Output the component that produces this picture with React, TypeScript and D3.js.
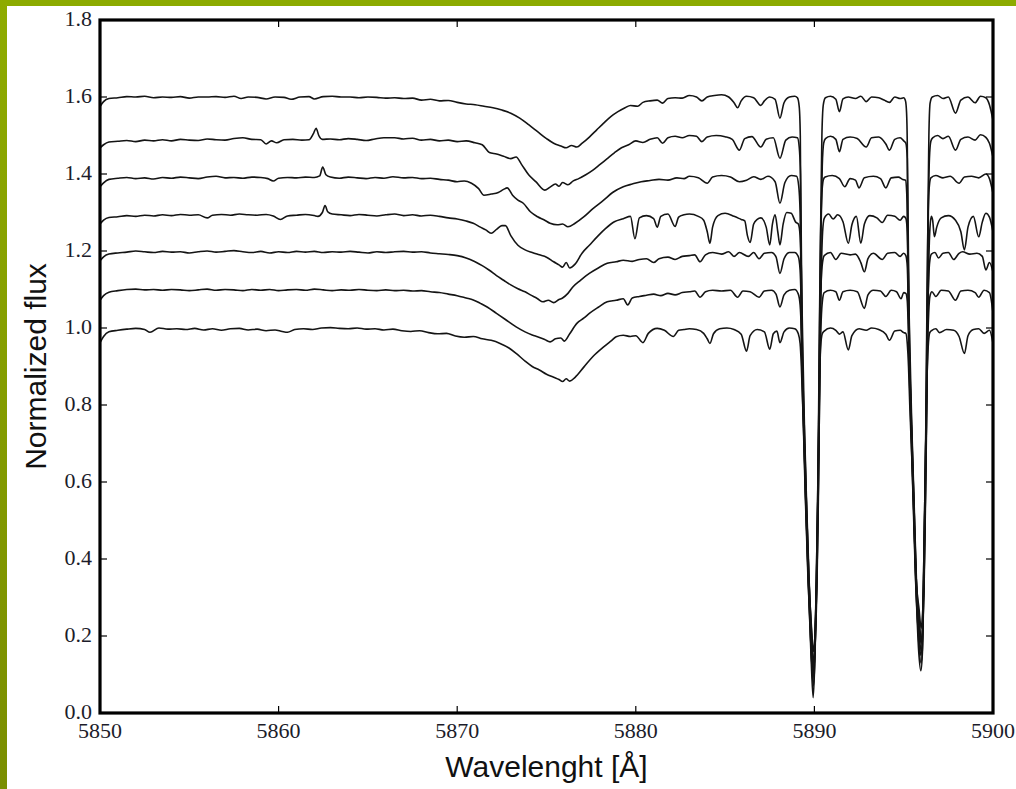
import React from 'react';
import * as d3 from 'd3';

type P = [number, number];

const xTicks = [5850, 5860, 5870, 5880, 5890, 5900];
const yTicks = [0.0, 0.2, 0.4, 0.6, 0.8, 1.0, 1.2, 1.4, 1.6, 1.8];
const xLabel = 'Wavelenght [Å]';
const yLabel = 'Normalized flux';

// Spectrum with continuum near 1.6 (top)
const spec6: P[] = [
  [5850.0,1.575],[5850.2,1.588],[5850.5,1.596],[5851.0,1.598],[5851.5,1.601],[5852.0,1.600],[5852.5,1.602],[5853.0,1.598],
  [5853.5,1.600],[5854.0,1.599],[5854.5,1.601],[5855.0,1.597],[5855.5,1.600],[5856.0,1.600],[5856.5,1.601],[5857.0,1.599],
  [5857.5,1.602],[5857.9,1.596],[5858.3,1.600],[5858.8,1.599],[5859.3,1.595],[5859.8,1.600],[5860.3,1.599],[5860.7,1.594],
  [5861.2,1.600],[5861.7,1.601],[5862.0,1.595],[5862.5,1.601],[5863.0,1.602],[5863.5,1.600],[5864.0,1.600],[5864.5,1.598],
  [5865.0,1.600],[5865.5,1.599],[5866.0,1.597],[5866.5,1.598],[5867.0,1.596],[5867.5,1.597],[5868.0,1.592],[5868.5,1.594],
  [5869.0,1.590],[5869.5,1.591],[5870.0,1.586],[5870.5,1.582],[5871.0,1.580],[5871.5,1.576],[5872.0,1.572],[5872.5,1.566],
  [5873.0,1.558],[5873.5,1.545],[5874.0,1.528],[5874.5,1.510],[5875.0,1.492],[5875.4,1.480],[5875.8,1.473],[5876.1,1.468],
  [5876.4,1.474],[5876.7,1.470],[5877.0,1.480],[5877.4,1.496],[5877.8,1.514],[5878.2,1.532],[5878.6,1.549],[5879.0,1.562],
  [5879.4,1.572],[5879.7,1.578],[5880.1,1.576],[5880.4,1.586],[5880.8,1.590],[5881.2,1.592],[5881.5,1.584],[5881.8,1.596],
  [5882.2,1.598],[5882.6,1.597],[5883.0,1.604],[5883.4,1.600],[5883.7,1.590],[5884.0,1.600],[5884.4,1.604],[5884.8,1.606],
  [5885.2,1.600],[5885.5,1.585],[5885.7,1.572],[5885.9,1.590],[5886.2,1.602],[5886.6,1.598],[5887.0,1.578],[5887.2,1.590],
  [5887.5,1.600],[5887.8,1.594],[5888.07,1.545],[5888.3,1.585],[5888.6,1.600],[5888.9,1.602],
  [5889.05,1.598],[5889.15,1.575],[5889.21,1.50],[5889.24,1.30],[5889.29,1.00],[5889.40,0.75],[5889.52,0.55],[5889.66,0.35],
  [5889.82,0.20],[5889.94,0.12],[5890.04,0.20],[5890.12,0.35],[5890.19,0.55],[5890.24,0.75],[5890.29,1.00],[5890.36,1.30],
  [5890.42,1.50],[5890.5,1.58],[5890.62,1.598],
  [5890.9,1.602],[5891.2,1.594],[5891.4,1.562],[5891.6,1.595],[5891.9,1.600],[5892.3,1.596],[5892.6,1.602],[5892.9,1.588],
  [5893.2,1.600],[5893.6,1.598],[5893.9,1.592],[5894.2,1.586],[5894.5,1.600],[5894.8,1.596],[5895.0,1.598],
  [5895.1,1.59],[5895.16,1.56],[5895.2,1.48],[5895.23,1.30],[5895.29,1.00],[5895.42,0.75],[5895.55,0.55],[5895.68,0.35],
  [5895.85,0.24],[5895.97,0.18],[5896.06,0.24],[5896.12,0.35],[5896.19,0.55],[5896.25,0.75],[5896.30,1.00],[5896.36,1.30],
  [5896.41,1.50],[5896.48,1.585],[5896.6,1.600],
  [5896.9,1.604],[5897.2,1.596],[5897.5,1.600],[5897.9,1.558],[5898.2,1.592],[5898.6,1.600],[5899.0,1.585],[5899.3,1.602],
  [5899.6,1.598],[5899.8,1.580],[5900.0,1.540],
];

const spec5: P[] = [
  [5850.0,1.468],[5850.2,1.476],[5850.5,1.483],[5851.0,1.485],[5851.5,1.487],[5852.0,1.484],[5852.5,1.488],[5853.0,1.486],
  [5853.5,1.489],[5854.0,1.486],[5854.5,1.490],[5855.0,1.488],[5855.5,1.487],[5856.0,1.491],[5856.5,1.489],[5857.0,1.488],
  [5857.5,1.492],[5858.0,1.494],[5858.5,1.490],[5859.0,1.489],[5859.3,1.478],[5859.6,1.486],[5859.9,1.481],[5860.3,1.489],
  [5860.8,1.490],[5861.3,1.488],[5861.7,1.489],[5861.95,1.505],[5862.1,1.519],[5862.25,1.500],[5862.45,1.490],[5862.9,1.491],
  [5863.4,1.489],[5863.9,1.492],[5864.4,1.490],[5864.9,1.487],[5865.4,1.491],[5865.9,1.494],[5866.5,1.494],[5867.0,1.491],
  [5867.5,1.493],[5868.0,1.488],[5868.5,1.490],[5869.0,1.486],[5869.5,1.488],[5870.0,1.484],[5870.5,1.486],[5871.0,1.481],
  [5871.4,1.476],[5871.8,1.456],[5872.2,1.452],[5872.6,1.446],[5873.0,1.440],[5873.3,1.444],[5873.6,1.425],[5874.0,1.398],
  [5874.4,1.380],[5874.9,1.358],[5875.2,1.366],[5875.5,1.374],[5875.7,1.368],[5875.9,1.378],[5876.2,1.372],[5876.5,1.382],
  [5876.8,1.388],[5877.2,1.398],[5877.6,1.410],[5878.0,1.425],[5878.4,1.440],[5878.8,1.455],[5879.2,1.468],[5879.6,1.476],
  [5880.0,1.486],[5880.4,1.482],[5880.8,1.490],[5881.2,1.494],[5881.5,1.480],[5881.8,1.494],[5882.2,1.498],[5882.6,1.494],
  [5883.0,1.500],[5883.4,1.498],[5883.7,1.484],[5884.0,1.496],[5884.5,1.500],[5885.0,1.497],[5885.4,1.490],[5885.8,1.462],
  [5886.1,1.492],[5886.5,1.497],[5887.0,1.470],[5887.3,1.490],[5887.7,1.494],[5888.07,1.441],[5888.4,1.488],[5888.75,1.496],
  [5889.05,1.494],[5889.15,1.47],[5889.22,1.40],[5889.26,1.25],[5889.31,1.00],[5889.43,0.75],[5889.55,0.55],[5889.69,0.35],
  [5889.84,0.22],[5889.95,0.16],[5890.05,0.22],[5890.14,0.35],[5890.21,0.55],[5890.26,0.75],[5890.31,1.00],[5890.37,1.25],
  [5890.44,1.42],[5890.52,1.48],[5890.62,1.492],
  [5890.9,1.498],[5891.2,1.490],[5891.4,1.458],[5891.6,1.490],[5892.0,1.496],[5892.4,1.492],[5892.9,1.470],[5893.2,1.494],
  [5893.6,1.496],[5894.0,1.478],[5894.2,1.462],[5894.5,1.490],[5894.8,1.494],[5895.0,1.486],
  [5895.12,1.48],[5895.2,1.44],[5895.24,1.30],[5895.31,1.00],[5895.44,0.75],[5895.57,0.55],[5895.70,0.35],[5895.86,0.27],
  [5895.98,0.22],[5896.07,0.27],[5896.14,0.35],[5896.21,0.55],[5896.27,0.75],[5896.32,1.00],[5896.38,1.30],[5896.44,1.44],
  [5896.52,1.485],[5896.62,1.494],
  [5896.9,1.500],[5897.2,1.492],[5897.5,1.498],[5897.9,1.462],[5898.2,1.490],[5898.6,1.496],[5899.0,1.488],[5899.3,1.502],
  [5899.6,1.495],[5899.8,1.480],[5900.0,1.444],
];

const spec4: P[] = [
  [5850.0,1.367],[5850.2,1.377],[5850.5,1.386],[5851.0,1.389],[5851.5,1.391],[5852.0,1.388],[5852.5,1.390],[5853.0,1.387],
  [5853.5,1.391],[5854.0,1.389],[5854.5,1.392],[5855.0,1.390],[5855.5,1.388],[5856.0,1.392],[5856.5,1.394],[5857.0,1.390],
  [5857.5,1.391],[5858.0,1.389],[5858.5,1.392],[5859.0,1.391],[5859.4,1.388],[5859.7,1.382],[5860.0,1.389],[5860.5,1.391],
  [5861.0,1.390],[5861.5,1.392],[5862.0,1.391],[5862.3,1.395],[5862.47,1.418],[5862.65,1.398],[5862.9,1.392],[5863.4,1.389],
  [5863.9,1.392],[5864.4,1.390],[5864.9,1.388],[5865.4,1.391],[5865.9,1.389],[5866.4,1.393],[5867.0,1.390],[5867.5,1.391],
  [5868.0,1.388],[5868.5,1.389],[5869.0,1.386],[5869.5,1.384],[5870.0,1.380],[5870.4,1.382],[5870.8,1.376],[5871.2,1.362],
  [5871.5,1.345],[5871.9,1.348],[5872.3,1.352],[5872.6,1.360],[5872.8,1.364],[5873.1,1.345],[5873.4,1.332],[5873.7,1.324],
  [5874.1,1.302],[5874.5,1.289],[5874.9,1.280],[5875.2,1.272],[5875.6,1.268],[5875.9,1.270],[5876.2,1.263],[5876.6,1.272],
  [5877.1,1.289],[5877.6,1.310],[5878.2,1.332],[5878.7,1.352],[5879.3,1.367],[5879.8,1.374],[5880.3,1.380],[5880.8,1.383],
  [5881.3,1.386],[5881.8,1.384],[5882.3,1.390],[5882.7,1.388],
  [5883.0,1.394],[5883.5,1.390],[5884.0,1.376],[5884.3,1.392],[5884.8,1.396],[5885.3,1.392],[5885.8,1.380],[5886.2,1.384],
  [5886.6,1.393],[5887.0,1.386],[5887.4,1.394],[5887.8,1.380],[5888.07,1.324],[5888.35,1.378],[5888.7,1.396],
  [5889.0,1.394],[5889.12,1.37],[5889.2,1.30],[5889.23,1.20],[5889.27,1.00],[5889.38,0.75],[5889.50,0.55],[5889.64,0.35],
  [5889.80,0.18],[5889.93,0.09],[5890.03,0.18],[5890.11,0.35],[5890.18,0.55],[5890.23,0.75],[5890.28,1.00],[5890.33,1.20],
  [5890.40,1.33],[5890.5,1.385],[5890.6,1.392],
  [5891.0,1.396],[5891.4,1.388],[5891.7,1.367],[5892.0,1.388],[5892.3,1.384],[5892.5,1.364],[5892.8,1.390],[5893.3,1.394],
  [5893.7,1.388],[5894.0,1.364],[5894.3,1.390],[5894.7,1.392],[5894.95,1.386],
  [5895.1,1.384],[5895.17,1.35],[5895.21,1.25],[5895.27,1.00],[5895.40,0.75],[5895.53,0.55],[5895.66,0.35],[5895.84,0.20],
  [5895.96,0.15],[5896.05,0.20],[5896.11,0.35],[5896.18,0.55],[5896.24,0.75],[5896.29,1.00],[5896.35,1.25],[5896.42,1.36],
  [5896.52,1.39],
  [5896.8,1.396],[5897.2,1.390],[5897.6,1.394],[5898.1,1.376],[5898.4,1.392],[5898.8,1.394],[5899.2,1.390],[5899.6,1.400],
  [5899.8,1.388],[5900.0,1.350],
];

const spec3: P[] = [
  [5850.0,1.270],[5850.2,1.280],[5850.5,1.287],[5851.0,1.289],[5851.5,1.292],[5852.0,1.290],[5852.5,1.293],[5853.0,1.291],
  [5853.5,1.294],[5854.0,1.292],[5854.5,1.295],[5855.0,1.293],[5855.5,1.294],[5856.0,1.286],[5856.3,1.293],[5856.8,1.295],
  [5857.3,1.293],[5857.8,1.296],[5858.3,1.294],[5858.8,1.293],[5859.3,1.295],[5859.7,1.291],[5860.1,1.282],[5860.5,1.291],
  [5861.0,1.293],[5861.5,1.295],[5862.0,1.292],[5862.2,1.290],[5862.45,1.300],[5862.6,1.318],[5862.75,1.302],[5863.0,1.296],
  [5863.5,1.294],[5864.0,1.292],[5864.5,1.295],[5865.0,1.293],[5865.5,1.291],[5866.0,1.294],[5866.5,1.296],[5867.0,1.292],
  [5867.5,1.294],[5868.0,1.291],[5868.5,1.293],[5869.0,1.290],[5869.5,1.286],[5870.0,1.283],[5870.5,1.278],[5870.9,1.272],
  [5871.3,1.262],[5871.6,1.255],[5871.9,1.246],[5872.2,1.256],[5872.5,1.266],[5872.7,1.266],[5873.0,1.240],[5873.4,1.215],
  [5873.8,1.203],[5874.2,1.196],[5874.6,1.190],[5875.0,1.184],[5875.4,1.172],[5875.7,1.164],[5875.9,1.158],[5876.1,1.170],
  [5876.3,1.156],[5876.6,1.166],[5877.0,1.195],[5877.4,1.215],[5877.9,1.240],[5878.3,1.258],[5878.8,1.276],[5879.3,1.284],
  [5879.7,1.290],[5879.95,1.232],[5880.2,1.286],[5880.6,1.292],[5881.0,1.284],[5881.2,1.262],[5881.4,1.290],[5881.8,1.296],
  [5882.2,1.264],[5882.4,1.288],[5882.7,1.294],
  [5883.0,1.296],[5883.5,1.290],[5883.8,1.280],[5884.0,1.250],[5884.15,1.220],[5884.3,1.262],[5884.6,1.292],[5885.0,1.298],
  [5885.5,1.290],[5885.9,1.282],[5886.1,1.278],[5886.25,1.240],[5886.4,1.222],[5886.6,1.270],[5886.8,1.282],[5887.0,1.286],
  [5887.3,1.262],[5887.5,1.216],[5887.65,1.270],[5887.8,1.294],[5887.95,1.250],[5888.07,1.216],[5888.25,1.270],[5888.45,1.300],
  [5888.7,1.298],[5888.95,1.275],
  [5889.1,1.27],[5889.2,1.24],[5889.27,1.15],[5889.33,1.00],[5889.44,0.75],[5889.56,0.55],[5889.70,0.35],[5889.85,0.20],
  [5889.96,0.13],[5890.06,0.20],[5890.15,0.35],[5890.22,0.55],[5890.27,0.75],[5890.33,1.00],[5890.39,1.15],[5890.46,1.25],
  [5890.55,1.285],
  [5890.8,1.296],[5891.05,1.283],[5891.3,1.294],[5891.6,1.276],[5891.9,1.220],[5892.1,1.268],[5892.35,1.290],[5892.6,1.220],
  [5892.8,1.270],[5893.1,1.292],[5893.5,1.286],[5893.8,1.274],[5894.1,1.293],[5894.5,1.290],[5894.8,1.280],[5895.0,1.290],
  [5895.12,1.285],[5895.2,1.25],[5895.25,1.16],[5895.32,1.00],[5895.45,0.75],[5895.58,0.55],[5895.71,0.35],[5895.87,0.24],
  [5895.99,0.19],[5896.08,0.24],[5896.15,0.35],[5896.22,0.55],[5896.28,0.75],[5896.34,1.00],[5896.40,1.16],[5896.47,1.26],
  [5896.55,1.29],
  [5896.62,1.280],[5896.72,1.237],[5896.85,1.262],[5897.1,1.286],[5897.5,1.292],[5897.9,1.280],[5898.2,1.250],[5898.4,1.203],
  [5898.6,1.262],[5898.9,1.290],[5899.2,1.237],[5899.4,1.275],[5899.6,1.298],[5899.8,1.288],[5900.0,1.250],
];

const spec2: P[] = [
  [5850.0,1.175],[5850.2,1.185],[5850.5,1.192],[5851.0,1.195],[5851.5,1.197],[5852.0,1.200],[5852.5,1.198],[5853.0,1.196],
  [5853.5,1.199],[5854.0,1.197],[5854.5,1.198],[5855.0,1.195],[5855.5,1.198],[5856.0,1.200],[5856.5,1.197],[5857.0,1.199],
  [5857.5,1.201],[5858.0,1.198],[5858.5,1.196],[5859.0,1.199],[5859.5,1.195],[5860.0,1.198],[5860.5,1.196],[5861.0,1.199],
  [5861.5,1.197],[5862.0,1.199],[5862.5,1.196],[5863.0,1.198],[5863.5,1.197],[5864.0,1.199],[5864.5,1.197],[5865.0,1.195],
  [5865.5,1.198],[5866.0,1.196],[5866.5,1.198],[5867.0,1.199],[5867.5,1.197],[5868.0,1.198],[5868.5,1.195],[5869.0,1.193],
  [5869.5,1.191],[5870.0,1.188],[5870.5,1.182],[5871.0,1.172],[5871.4,1.162],[5871.8,1.150],[5872.2,1.136],[5872.6,1.124],
  [5873.0,1.112],[5873.4,1.102],[5873.8,1.094],[5874.1,1.086],[5874.5,1.076],[5874.8,1.068],[5875.1,1.072],[5875.4,1.066],
  [5875.7,1.074],[5875.9,1.078],[5876.2,1.090],[5876.5,1.108],[5876.9,1.124],[5877.4,1.142],[5877.9,1.156],[5878.4,1.168],
  [5878.9,1.172],[5879.3,1.176],[5879.8,1.173],[5880.2,1.178],[5880.6,1.180],[5881.0,1.170],[5881.3,1.180],[5881.8,1.184],
  [5882.2,1.178],[5882.6,1.186],
  [5883.0,1.188],[5883.3,1.190],[5883.6,1.172],[5883.9,1.190],[5884.3,1.196],[5884.8,1.192],[5885.2,1.198],[5885.5,1.186],
  [5885.8,1.196],[5886.3,1.186],[5886.6,1.196],[5886.9,1.180],[5887.2,1.194],[5887.6,1.196],[5887.85,1.185],[5888.07,1.142],
  [5888.3,1.180],[5888.6,1.196],[5888.9,1.196],
  [5889.1,1.185],[5889.2,1.15],[5889.25,1.08],[5889.29,0.98],[5889.40,0.75],[5889.52,0.55],[5889.66,0.35],[5889.82,0.16],
  [5889.94,0.07],[5890.04,0.16],[5890.12,0.35],[5890.19,0.55],[5890.24,0.75],[5890.3,0.98],[5890.35,1.08],[5890.43,1.16],
  [5890.55,1.188],
  [5890.9,1.196],[5891.2,1.178],[5891.5,1.194],[5892.0,1.190],[5892.3,1.192],[5892.6,1.170],[5892.8,1.146],[5893.0,1.180],
  [5893.3,1.194],[5893.8,1.178],[5894.1,1.194],[5894.5,1.196],[5894.8,1.186],[5895.0,1.194],
  [5895.12,1.188],[5895.2,1.16],[5895.25,1.08],[5895.3,0.98],[5895.42,0.75],[5895.55,0.55],[5895.68,0.35],[5895.85,0.18],
  [5895.97,0.13],[5896.06,0.18],[5896.12,0.35],[5896.19,0.55],[5896.25,0.75],[5896.31,0.98],[5896.37,1.09],[5896.45,1.17],
  [5896.55,1.192],
  [5896.75,1.196],[5896.95,1.182],[5897.2,1.194],[5897.5,1.196],[5897.8,1.178],[5898.1,1.194],[5898.3,1.198],[5898.7,1.192],
  [5899.1,1.194],[5899.4,1.186],[5899.6,1.151],[5899.8,1.170],[5900.0,1.145],
];

const spec1: P[] = [
  [5850.0,1.072],[5850.2,1.084],[5850.5,1.093],[5851.0,1.097],[5851.5,1.100],[5852.0,1.101],[5852.5,1.099],[5853.0,1.100],
  [5853.5,1.098],[5854.0,1.100],[5854.5,1.099],[5855.0,1.097],[5855.5,1.099],[5856.0,1.101],[5856.5,1.098],[5857.0,1.100],
  [5857.5,1.099],[5858.0,1.097],[5858.5,1.100],[5859.0,1.098],[5859.5,1.100],[5860.0,1.097],[5860.5,1.099],[5861.0,1.100],
  [5861.5,1.098],[5862.0,1.101],[5862.5,1.099],[5863.0,1.097],[5863.5,1.099],[5864.0,1.098],[5864.5,1.100],[5865.0,1.098],
  [5865.5,1.097],[5866.0,1.099],[5866.5,1.097],[5867.0,1.098],[5867.5,1.096],[5868.0,1.097],[5868.5,1.094],[5869.0,1.092],
  [5869.5,1.088],[5870.0,1.084],[5870.5,1.078],[5870.9,1.073],[5871.3,1.064],[5871.7,1.054],[5872.2,1.038],[5872.7,1.022],
  [5873.3,1.003],[5873.8,0.990],[5874.2,0.982],[5874.5,0.977],[5874.9,0.970],[5875.2,0.964],[5875.5,0.972],[5875.8,0.974],
  [5876.0,0.966],[5876.3,0.985],[5876.7,1.012],[5877.1,1.026],[5877.4,1.038],[5877.9,1.054],[5878.4,1.068],[5878.9,1.072],
  [5879.3,1.076],[5879.55,1.060],[5879.8,1.078],[5880.2,1.082],[5880.6,1.085],[5881.0,1.088],[5881.4,1.084],[5881.8,1.090],
  [5882.2,1.086],[5882.6,1.092],
  [5883.0,1.094],[5883.3,1.096],[5883.6,1.080],[5883.9,1.094],[5884.3,1.098],[5884.8,1.096],[5885.3,1.098],[5885.7,1.080],
  [5886.0,1.096],[5886.4,1.094],[5886.9,1.080],[5887.2,1.096],[5887.6,1.098],[5887.85,1.088],[5888.07,1.055],[5888.3,1.086],
  [5888.6,1.098],[5888.9,1.100],
  [5889.1,1.088],[5889.2,1.06],[5889.27,0.99],[5889.32,0.9],[5889.43,0.72],[5889.55,0.55],[5889.69,0.35],[5889.84,0.19],
  [5889.95,0.10],[5890.05,0.19],[5890.14,0.35],[5890.21,0.55],[5890.27,0.75],[5890.32,0.92],[5890.38,1.02],[5890.46,1.075],
  [5890.55,1.092],
  [5890.9,1.098],[5891.2,1.094],[5891.4,1.072],[5891.6,1.094],[5892.0,1.098],[5892.4,1.094],[5892.8,1.051],[5893.0,1.086],
  [5893.3,1.098],[5893.7,1.096],[5894.0,1.082],[5894.3,1.098],[5894.6,1.094],[5894.85,1.076],[5895.0,1.092],
  [5895.12,1.09],[5895.2,1.07],[5895.26,1.0],[5895.33,0.9],[5895.45,0.72],[5895.57,0.55],[5895.70,0.35],[5895.86,0.21],
  [5895.98,0.16],[5896.07,0.21],[5896.14,0.35],[5896.21,0.55],[5896.27,0.75],[5896.33,0.93],[5896.40,1.04],[5896.48,1.085],
  [5896.58,1.094],
  [5896.8,1.082],[5897.1,1.098],[5897.5,1.096],[5897.9,1.072],[5898.2,1.096],[5898.6,1.098],[5899.0,1.092],[5899.2,1.080],
  [5899.5,1.098],[5899.8,1.092],[5900.0,1.040],
];

const spec0: P[] = [
  [5850.0,0.962],[5850.2,0.978],[5850.5,0.990],[5851.0,0.994],[5851.5,0.997],[5852.0,0.999],[5852.5,0.996],[5852.8,0.989],
  [5853.3,1.000],[5853.8,0.997],[5854.3,0.998],[5854.8,0.996],[5855.3,0.999],[5855.8,0.995],[5856.3,0.998],[5856.8,0.994],
  [5857.3,0.998],[5857.8,0.999],[5858.3,0.995],[5858.8,0.997],[5859.3,0.993],[5859.8,0.995],[5860.2,0.991],[5860.5,0.989],
  [5860.9,0.996],[5861.4,0.998],[5861.9,0.996],[5862.4,1.000],[5862.9,1.001],[5863.4,0.999],[5863.9,0.998],[5864.4,1.000],
  [5864.9,0.997],[5865.4,0.998],[5865.9,0.995],[5866.4,0.997],[5866.9,0.993],[5867.4,0.991],[5867.9,0.993],[5868.4,0.988],
  [5868.9,0.985],[5869.4,0.986],[5869.9,0.979],[5870.4,0.976],[5870.9,0.978],[5871.4,0.972],[5871.9,0.968],[5872.4,0.960],
  [5872.9,0.948],[5873.3,0.934],[5873.8,0.914],[5874.2,0.900],[5874.6,0.891],[5875.0,0.880],[5875.4,0.872],[5875.7,0.866],
  [5875.9,0.861],[5876.1,0.868],[5876.3,0.862],[5876.6,0.872],[5877.1,0.899],[5877.6,0.926],[5878.2,0.951],[5878.6,0.966],
  [5878.9,0.977],[5879.3,0.981],[5879.7,0.978],[5880.0,0.980],[5880.4,0.962],[5880.7,0.986],[5881.2,0.999],[5881.6,0.994],
  [5882.1,0.978],[5882.4,0.994],[5882.7,0.996],
  [5883.0,0.998],[5883.4,0.996],[5883.8,0.986],[5884.0,0.972],[5884.15,0.960],[5884.35,0.985],[5884.7,0.998],[5885.1,1.000],
  [5885.5,0.996],[5885.9,0.984],[5886.2,0.940],[5886.4,0.980],[5886.8,0.996],[5887.2,0.990],[5887.5,0.945],[5887.7,0.985],
  [5887.9,0.992],[5888.07,0.962],[5888.3,0.990],[5888.6,1.000],[5888.9,0.998],
  [5889.1,0.985],[5889.2,0.96],[5889.27,0.90],[5889.33,0.82],[5889.42,0.70],[5889.51,0.55],[5889.65,0.35],[5889.81,0.15],
  [5889.93,0.04],[5890.03,0.15],[5890.11,0.35],[5890.18,0.55],[5890.24,0.72],[5890.29,0.86],[5890.35,0.95],[5890.44,0.985],
  [5890.55,0.992],
  [5890.9,1.000],[5891.2,0.994],[5891.4,0.984],[5891.6,0.990],[5891.9,0.943],[5892.1,0.980],[5892.5,0.998],[5892.9,0.994],
  [5893.2,1.000],[5893.6,0.996],[5894.0,0.984],[5894.2,0.968],[5894.5,0.992],[5894.8,0.994],[5895.0,0.988],
  [5895.12,0.986],[5895.2,0.96],[5895.27,0.9],[5895.34,0.8],[5895.44,0.68],[5895.54,0.55],[5895.67,0.35],[5895.84,0.16],
  [5895.96,0.11],[5896.05,0.16],[5896.11,0.35],[5896.18,0.55],[5896.24,0.72],[5896.3,0.86],[5896.37,0.95],[5896.46,0.988],
  [5896.58,0.994],
  [5896.8,0.998],[5897.0,0.988],[5897.4,0.996],[5897.8,0.994],[5898.1,0.978],[5898.4,0.934],[5898.6,0.980],[5898.9,0.996],
  [5899.2,0.998],[5899.5,0.986],[5899.8,0.994],[5900.0,0.960],
];

const spectra: P[][] = [spec0, spec1, spec2, spec3, spec4, spec5, spec6];

const PLOT = { left: 100, right: 993, top: 20, bottom: 713 };

export default function App() {
  const x = d3.scaleLinear().domain([5850, 5900]).range([PLOT.left, PLOT.right]);
  const y = d3.scaleLinear().domain([0, 1.8]).range([PLOT.bottom, PLOT.top]);
  const line = d3
    .line<P>()
    .x((d) => x(d[0]))
    .y((d) => y(d[1]))
    .curve(d3.curveMonotoneX);
  const fmtY = d3.format('.1f');
  const tickLen = 7;
  const serif = '"Liberation Serif", "DejaVu Serif", serif';
  const sans = '"Liberation Sans", Arial, sans-serif';

  return (
    <svg
      width={1016}
      height={789}
      style={{ position: 'absolute', left: 0, top: 0, background: '#ffffff' }}
    >
      <defs>
        <linearGradient id="barGrad" x1="0" y1="0" x2="0" y2="1">
          <stop offset="0%" stopColor="#8eab00" />
          <stop offset="100%" stopColor="#7a8e00" />
        </linearGradient>
        <clipPath id="plotClip">
          <rect x={PLOT.left} y={PLOT.top} width={PLOT.right - PLOT.left} height={PLOT.bottom - PLOT.top} />
        </clipPath>
      </defs>
      <rect x={0} y={0} width={1016} height={789} fill="#ffffff" />
      <rect x={0} y={0} width={1016} height={6} fill="#8cab00" />
      <rect x={0} y={0} width={7} height={789} fill="url(#barGrad)" />

      <g clipPath="url(#plotClip)">
        {spectra.map((s, i) => (
          <path key={i} d={line(s) || ''} fill="none" stroke="#141414" strokeWidth={1.6} strokeLinejoin="round" />
        ))}
      </g>

      {/* ticks */}
      {xTicks.map((t) => (
        <g key={'xt' + t}>
          <line x1={x(t)} x2={x(t)} y1={PLOT.bottom} y2={PLOT.bottom - tickLen} stroke="#000" strokeWidth={1.2} />
          <line x1={x(t)} x2={x(t)} y1={PLOT.top} y2={PLOT.top + tickLen} stroke="#000" strokeWidth={1.2} />
          <text x={x(t)} y={738} textAnchor="middle" fontFamily={serif} fontSize={22} fill="#1c1c2a">
            {String(t)}
          </text>
        </g>
      ))}
      {yTicks.map((t) => (
        <g key={'yt' + t}>
          <line x1={PLOT.left} x2={PLOT.left + tickLen} y1={y(t)} y2={y(t)} stroke="#000" strokeWidth={1.2} />
          <line x1={PLOT.right} x2={PLOT.right - tickLen} y1={y(t)} y2={y(t)} stroke="#000" strokeWidth={1.2} />
          <text x={92} y={y(t) + 6} textAnchor="end" fontFamily={serif} fontSize={22} fill="#1c1c2a">
            {fmtY(t)}
          </text>
        </g>
      ))}

      <rect
        x={PLOT.left}
        y={PLOT.top}
        width={PLOT.right - PLOT.left}
        height={PLOT.bottom - PLOT.top}
        fill="none"
        stroke="#000"
        strokeWidth={3.2}
      />

      <text x={(PLOT.left + PLOT.right) / 2} y={777} textAnchor="middle" fontFamily={sans} fontSize={30} fill="#111">
        {xLabel}
      </text>
      <text
        transform={`translate(45.5, ${(PLOT.top + PLOT.bottom) / 2}) rotate(-90)`}
        textAnchor="middle"
        fontFamily={sans}
        fontSize={30}
        fill="#111"
      >
        {yLabel}
      </text>
    </svg>
  );
}
